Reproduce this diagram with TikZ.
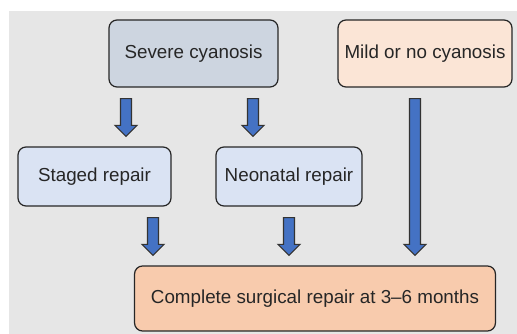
\documentclass[tikz,border=0pt]{standalone}
\usepackage{fontspec}
\setmainfont{Liberation Sans}
\usetikzlibrary{calc}
\definecolor{Panel}{HTML}{E6E6E6}
\definecolor{Slate}{HTML}{CDD5E0}
\definecolor{Ice}{HTML}{DAE3F3}
\definecolor{Peach}{HTML}{FBE5D6}
\definecolor{Salmon}{HTML}{F8CBAD}
\definecolor{Flow}{HTML}{4472C4}

% block arrow straight down from node #1 to node #2 along the x of coordinate #3
\newcommand{\fatarrow}[3]{%
  \path (#1.south -| #3) ++(0,-11) coordinate (s) (#2.north -| #3) ++(0,10) coordinate (t);
  \draw[arr] ($(s)+(-5.5,0)$) -- ($(t)+(-5.5,11)$) -- ($(t)+(-11,11)$) -- (t)
    -- ($(t)+(11,11)$) -- ($(t)+(5.5,11)$) -- ($(s)+(5.5,0)$) -- cycle;}

\begin{document}
\begin{tikzpicture}[x=0.02cm,y=0.02cm,
    box/.style={draw=black!85,line width=0.7pt,rounded corners=0.16cm,inner sep=0pt,
      align=center,text=black!85,font=\fontsize{10.7}{12.8}\selectfont},
    arr/.style={draw=black!80,line width=0.6pt,fill=Flow}]
  \useasboundingbox (0,0) rectangle (517,334);
  \fill[Panel] (9,0) rectangle (517,323);
  \node[box,fill=Slate,minimum width=3.38cm,minimum height=1.34cm] (severe) at (193.5,280.5) {Severe cyanosis};
  \node[box,fill=Peach,minimum width=3.48cm,minimum height=1.34cm] (mild) at (425,280.5) {Mild or no cyanosis};
  \node[box,fill=Ice,minimum width=3.06cm,minimum height=1.18cm] (staged) at (94.5,157.5) {Staged repair};
  \node[box,fill=Ice,minimum width=2.92cm,minimum height=1.18cm] (neonatal) at (289,157.5) {Neonatal repair};
  \node[box,fill=Salmon,minimum width=7.22cm,minimum height=1.30cm] (complete) at (315,35.5) {Complete surgical repair at 3--6 months};
  \coordinate (c1) at (126,0); \coordinate (c2) at (253,0); \coordinate (c3) at (415,0);
  \coordinate (c4) at (153,0); \coordinate (c5) at (289,0);
  \foreach \u/\v/\c in {severe/staged/c1,severe/neonatal/c2,mild/complete/c3,staged/complete/c4,neonatal/complete/c5}
    {\fatarrow{\u}{\v}{\c}}
\end{tikzpicture}
\end{document}
